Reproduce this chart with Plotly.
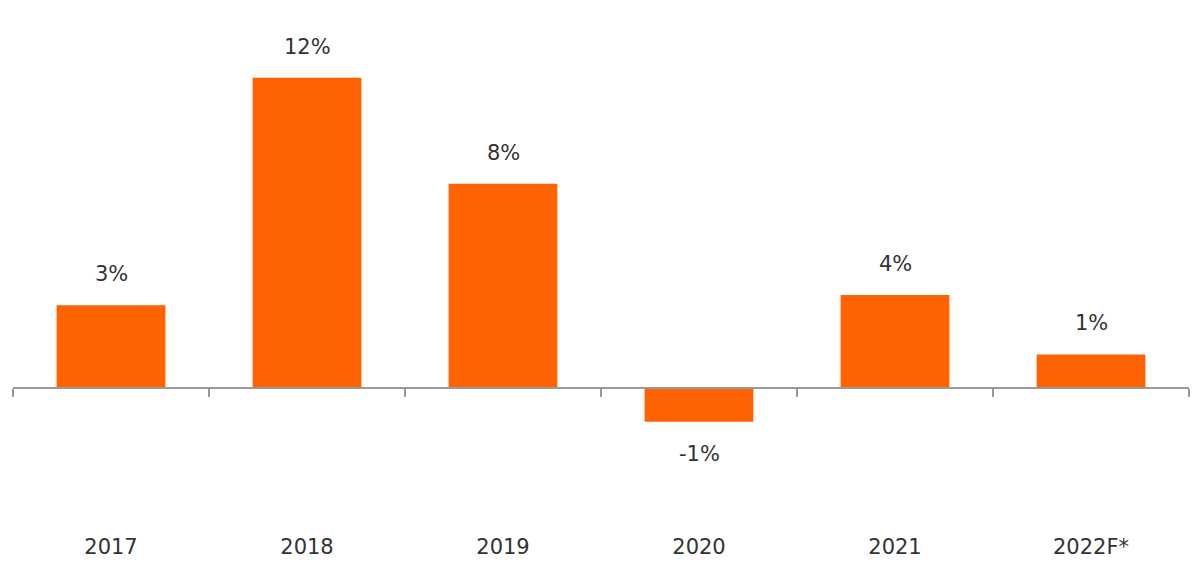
import plotly.graph_objects as go

years = ['2017', '2018', '2019', '2020', '2021', '2022F*']
growth = [3.2, 12.0, 7.9, -1.3, 3.6, 1.3]
labels = ['3%', '12%', '8%', '-1%', '4%', '1%']

ORANGE = '#FF6200'
TEXT = '#333333'
AXIS = '#9a9a9a'
FONT = 'DejaVu Sans'

y_min, y_max = -5.57, 13.0

fig = go.Figure()

fig.add_trace(go.Bar(
    x=years,
    y=growth,
    marker=dict(color=ORANGE, line=dict(width=0)),
    hoverinfo='skip',
))

# invisible trace so the baseline axis gets drawn
fig.add_trace(go.Scatter(
    x=[0, len(years)], y=[0, 0],
    xaxis='x2', mode='lines',
    line=dict(width=0), hoverinfo='skip',
))

# value labels above / below bars (x by category index)
for i, (val, lab) in enumerate(zip(growth, labels)):
    fig.add_annotation(
        x=i, y=val, text=lab, showarrow=False,
        xref='x', yref='y',
        yshift=31 if val >= 0 else -32,
        font=dict(family=FONT, size=21, color=TEXT),
    )

fig.update_layout(
    width=1192, height=558,
    margin=dict(l=5, r=11, t=44, b=34),
    plot_bgcolor='white',
    paper_bgcolor='white',
    showlegend=False,
    bargap=0.445,
    xaxis=dict(
        type='category',
        range=[-0.5, 5.5],
        showline=False, showgrid=False, zeroline=False,
        ticks='',
        tickfont=dict(family=FONT, size=21, color=TEXT),
    ),
    # baseline with boundary ticks at zero
    xaxis2=dict(
        overlaying='x',
        anchor='free',
        position=(0 - y_min) / (y_max - y_min),
        range=[0, 6],
        tickvals=[0, 1, 2, 3, 4, 5, 6],
        showticklabels=False,
        showline=True, linecolor=AXIS, linewidth=1.5,
        ticks='outside', ticklen=8, tickcolor=AXIS, tickwidth=1.5,
        showgrid=False, zeroline=False,
    ),
    yaxis=dict(
        range=[y_min, y_max],
        visible=False,
        showgrid=False, zeroline=False,
    ),
)

fig.write_html('out.html')
